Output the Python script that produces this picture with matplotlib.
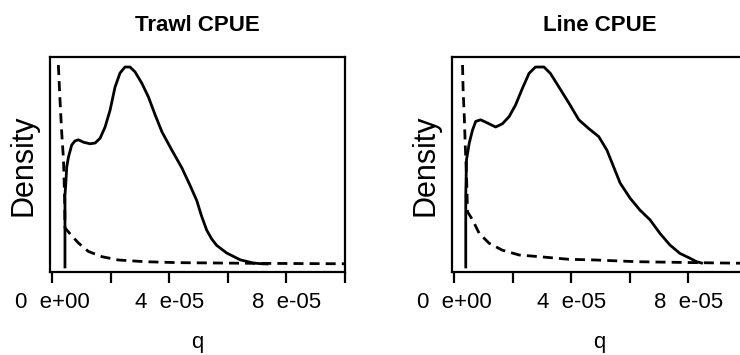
import matplotlib
matplotlib.use("Agg")
import matplotlib.pyplot as plt
import numpy as np

plt.rcParams['font.family'] = ['Liberation Sans', 'DejaVu Sans']

# catchability q in units of 1e-5, density in units of 1e3
trawl_post_q = [0.44, 0.44, 0.47, 0.50, 0.56, 0.67, 0.78, 0.90, 1.07, 1.30, 1.47, 1.64, 1.81,
                1.98, 2.15, 2.32, 2.49, 2.66, 2.83, 3.06, 3.29, 3.52, 3.75, 4.09, 4.43, 4.71,
                4.94, 5.10, 5.28, 5.45, 5.62, 5.96, 6.42, 6.86, 7.17, 7.34]
trawl_post_dens = [0.0, 9.0, 10.5, 12.5, 13.75, 15.25, 15.75, 15.9, 15.6, 15.4, 15.5, 16.1, 17.5,
                   19.6, 22.5, 24.25, 25.0, 25.0, 24.4, 23.0, 21.25, 19.0, 16.9, 14.6, 12.4, 10.2,
                   8.3, 6.4, 4.6, 3.5, 2.7, 1.75, 0.9, 0.5, 0.4, 0.38]
trawl_prior_q = [0.215, 0.27, 0.33, 0.39, 0.43, 0.44, 0.67, 0.90, 1.24, 1.70, 2.26, 3.17,
                 4.31, 6.76, 10.0]
trawl_prior_dens = [25.25, 20.9, 16.75, 13.4, 8.4, 4.9, 3.9, 3.0, 1.94, 1.29, 0.875, 0.66,
                    0.54, 0.46, 0.40]

line_post_q = [0.40, 0.40, 0.425, 0.52, 0.63, 0.74, 0.91, 1.14, 1.42, 1.65, 1.88, 2.10, 2.33,
               2.56, 2.78, 3.07, 3.29, 3.58, 3.92, 4.26, 4.60, 4.94, 5.22, 5.45, 5.67, 6.01,
               6.35, 6.69, 7.03, 7.37, 7.71, 8.05, 8.28, 8.45]
line_post_dens = [0.0, 9.0, 13.4, 15.5, 17.1, 18.2, 18.4, 18.0, 17.5, 17.9, 18.8, 20.25, 22.3,
                  24.2, 25.0, 25.0, 24.2, 22.5, 20.5, 18.4, 17.3, 16.3, 14.6, 12.5, 10.5, 8.6,
                  7.1, 5.9, 4.2, 2.75, 1.7, 1.1, 0.66, 0.5]
line_prior_q = [0.29, 0.31, 0.35, 0.38, 0.43, 0.46, 0.63, 0.86, 1.20, 1.65, 2.22, 2.90, 3.92,
                4.82, 6.24, 8.28, 10.0]
line_prior_dens = [25.25, 22.1, 18.8, 15.5, 10.9, 6.9, 5.9, 4.2, 2.96, 2.1, 1.5, 1.29, 0.96,
                   0.875, 0.66, 0.54, 0.46]

panels = [
    ("Trawl CPUE", trawl_post_q, trawl_post_dens, trawl_prior_q, trawl_prior_dens),
    ("Line CPUE", line_post_q, line_post_dens, line_prior_q, line_prior_dens),
]

tick_vals = [0, 2e-5, 4e-5, 6e-5, 8e-5, 1e-4]
tick_labels = ["0  e+00", "", "4  e-05", "", "8  e-05", ""]

fig = plt.figure(figsize=(7.4, 3.55), dpi=100)
axes_rects = [[0.0676, 0.2324, 0.3986, 0.607],
              [0.6108, 0.2324, 0.3986, 0.607]]

for rect, (title, pq, pd, rq, rd) in zip(axes_rects, panels):
    ax = fig.add_axes(rect)
    ax.plot(np.array(pq) * 1e-5, np.array(pd) * 1e3, color='black', lw=2.0,
            solid_joinstyle='round')
    ax.plot(np.array(rq) * 1e-5, np.array(rd) * 1e3, color='black', lw=2.0,
            linestyle=(0, (3.6, 2.2)))
    ax.set_xlim(-0.07e-5, 10.0e-5)
    ax.set_ylim(-0.69e3, 26.25e3)
    ax.set_xticks(tick_vals)
    ax.set_xticklabels(tick_labels)
    ax.set_yticks([])
    ax.tick_params(axis='x', direction='out', length=8, width=1.6, pad=6, labelsize=16)
    for sp in ax.spines.values():
        sp.set_linewidth(1.6)
    ax.set_title(title, fontsize=16, fontweight='bold', pad=19)
    ax.set_ylabel("Density", fontsize=22, labelpad=8)
    ax.set_xlabel("q", fontsize=16, labelpad=14)

fig.savefig("out.png", dpi=100)
